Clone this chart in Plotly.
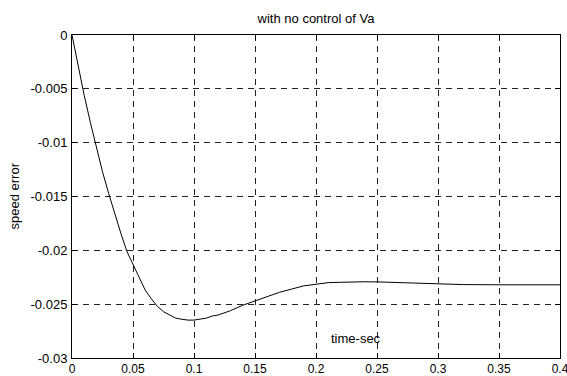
import plotly.graph_objects as go

t = [0, 0.005, 0.01, 0.015, 0.02, 0.025, 0.03, 0.035, 0.04, 0.045, 0.05,
     0.055, 0.06, 0.065, 0.07, 0.075, 0.08, 0.085, 0.09, 0.095, 0.1,
     0.105, 0.11, 0.115, 0.12, 0.13, 0.14, 0.15, 0.16, 0.17, 0.18, 0.19,
     0.2, 0.21, 0.22, 0.23, 0.24, 0.25, 0.26, 0.27, 0.28, 0.29, 0.3,
     0.32, 0.35, 0.4]
err = [0, -0.0029, -0.0056, -0.0081, -0.0105, -0.0127, -0.0147, -0.0166, -0.0184, -0.0201, -0.0213,
       -0.0226, -0.0237, -0.0245, -0.0252, -0.0257, -0.0260, -0.0263, -0.0264, -0.02648, -0.02648,
       -0.0264, -0.0263, -0.0261, -0.0260, -0.0256, -0.0251, -0.0247, -0.0243, -0.0239, -0.0236, -0.0233,
       -0.02315, -0.0230, -0.02297, -0.02293, -0.02292, -0.02293, -0.02297, -0.02302, -0.02306, -0.02309, -0.02312,
       -0.02318, -0.0232, -0.0232]

x_ticks = [0, 0.05, 0.1, 0.15, 0.2, 0.25, 0.3, 0.35, 0.4]
x_labels = ["0", "0.05", "0.1", "0.15", "0.2", "0.25", "0.3", "0.35", "0.4"]
y_ticks = [0, -0.005, -0.01, -0.015, -0.02, -0.025, -0.03]
y_labels = ["0", "-0.005", "-0.01", "-0.015", "-0.02", "-0.025", "-0.03"]

FONT = "Liberation Sans, Arial, sans-serif"

fig = go.Figure()
fig.add_trace(go.Scatter(x=t, y=err, mode="lines",
                         line=dict(color="black", width=1), showlegend=False))

axis_common = dict(
    showline=True, linecolor="black", linewidth=1, mirror="ticks",
    ticks="inside", ticklen=5, tickcolor="black",
    showgrid=True, gridcolor="#222222", gridwidth=1, griddash="6px,5px",
    zeroline=False,
    ticklabeloverflow="allow", automargin=False,
)

fig.update_layout(
    width=567, height=376,
    margin=dict(l=72, r=7, t=35, b=18),
    paper_bgcolor="white", plot_bgcolor="white",
    xaxis=dict(range=[0, 0.4], tickvals=x_ticks, ticktext=x_labels,
               tickfont=dict(family=FONT, size=12, color="black"),
               ticklabelstandoff=0, **axis_common),
    yaxis=dict(range=[-0.03, 0], tickvals=y_ticks, ticktext=y_labels,
               tickfont=dict(family=FONT, size=13, color="black"),
               ticklabelstandoff=1, **axis_common),
    title=dict(text="with no control of Va", x=0.5, xref="paper", xanchor="center",
               y=1 - 18 / 376, yanchor="middle",
               font=dict(family=FONT, size=13, color="black")),
    annotations=[
        dict(text="time-sec", xref="paper", yref="paper", x=(356 - 72) / 488,
             y=(358 - 338) / 323, xanchor="center", yanchor="middle", showarrow=False,
             font=dict(family=FONT, size=13, color="black")),
        dict(text="speed error", xref="paper", yref="paper", x=-(72 - 14) / 488,
             y=0.5, xanchor="center", yanchor="middle", textangle=-90, showarrow=False,
             font=dict(family=FONT, size=13, color="black")),
    ],
)

fig.write_html("out.html")
